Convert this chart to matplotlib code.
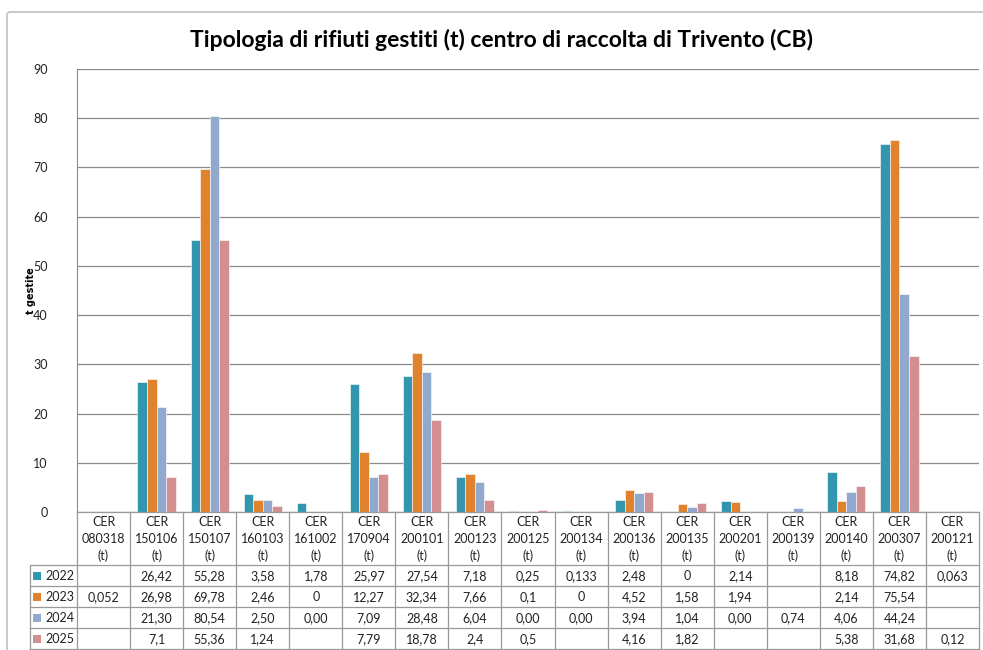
import matplotlib.pyplot as plt
from matplotlib.patches import Rectangle, FancyBboxPatch
from matplotlib.lines import Line2D
import matplotlib.transforms as mtransforms
import numpy as np

plt.rcParams['font.family'] = ['Lato', 'DejaVu Sans']

codes = ['080318', '150106', '150107', '160103', '161002', '170904', '200101',
         '200123', '200125', '200134', '200136', '200135', '200201', '200139',
         '200140', '200307', '200121']
years = ['2022', '2023', '2024', '2025']

# table values as printed (blank = no data)
v2022 = ['', '26,42', '55,28', '3,58', '1,78', '25,97', '27,54', '7,18', '0,25',
         '0,133', '2,48', '0', '2,14', '', '8,18', '74,82', '0,063']
v2023 = ['0,052', '26,98', '69,78', '2,46', '0', '12,27', '32,34', '7,66', '0,1',
         '0', '4,52', '1,58', '1,94', '', '2,14', '75,54', '']
v2024 = ['', '21,30', '80,54', '2,50', '0,00', '7,09', '28,48', '6,04', '0,00',
         '0,00', '3,94', '1,04', '0,00', '0,74', '4,06', '44,24', '']
v2025 = ['', '7,1', '55,36', '1,24', '', '7,79', '18,78', '2,4', '0,5',
         '', '4,16', '1,82', '', '', '5,38', '31,68', '0,12']
series = [v2022, v2023, v2024, v2025]
colors = ['#3296ae', '#e0822e', '#92a9cf', '#d38f8f']

W, H = 983, 650
fig = plt.figure(figsize=(W / 100, H / 100), dpi=100)

def fy(py):
    return 1 - py / H

def fx(px):
    return px / W

# outer chart border
fig.patches.append(FancyBboxPatch((fx(7), fy(655)), fx(995) - fx(7), fy(12) - fy(655),
                                  boxstyle='round,pad=0,rounding_size=0.004',
                                  transform=fig.transFigure, facecolor='white',
                                  edgecolor='#c0c0c0', linewidth=1.2, zorder=-1))

ax = fig.add_axes([fx(77), fy(512), fx(979) - fx(77), fy(69) - fy(512)])
ax.set_facecolor('none')

n = len(codes)
x = np.arange(n)
bw = 0.18
for k, (vals, col) in enumerate(zip(series, colors)):
    h = [float(s.replace(',', '.')) if s else 0 for s in vals]
    ax.bar(x + (k - 1.5) * bw, h, bw, color=col, edgecolor='white',
           linewidth=0.4, zorder=3)

ax.set_xlim(-0.5, n - 0.5)
ax.set_ylim(0, 90)
ax.set_yticks(np.arange(0, 91, 10))
ax.tick_params(axis='y', length=0, labelsize=9, pad=21, colors='#222222')
ax.set_xticks([])
ax.grid(axis='y', color='#8c8c8c', linewidth=0.9, zorder=0)
for s in ['top', 'right', 'bottom']:
    ax.spines[s].set_visible(False)
ax.spines['left'].set_color('#8c8c8c')

ax.set_ylabel('t gestite', fontsize=7, fontweight='bold',
              family=['DejaVu Sans'])
ax.yaxis.set_label_coords((36 - 77) / (979 - 77), 0.5)
fig.text(fx(501), fy(40), 'Tipologia di rifiuti gestiti (t) centro di raccolta di Trivento (CB)',
         ha='center', va='center', fontsize=16.5, fontweight='bold')

# data table under the axis
tr = mtransforms.blended_transform_factory(ax.transData, fig.transFigure)
lc = '#999999'
y_ax, y_head = 512, 565
row_h = 21
y_bot = y_head + row_h * len(years)

def hline(x0, x1, py, trans):
    fig.add_artist(Line2D([x0, x1], [fy(py), fy(py)], transform=trans,
                          color=lc, linewidth=0.9))

def vline(xx, py0, py1, trans):
    fig.add_artist(Line2D([xx, xx], [fy(py0), fy(py1)], transform=trans,
                          color=lc, linewidth=0.9))

hline(-0.5, n - 0.5, y_ax, tr)
for r in range(len(years) + 1):
    hline(fx(30), fx(77), y_head + r * row_h, fig.transFigure)
    hline(-0.5, n - 0.5, y_head + r * row_h, tr)
vline(fx(30), y_head, y_bot, fig.transFigure)
for i in range(n + 1):
    vline(i - 0.5, y_ax, y_bot, tr)

for i, c in enumerate(codes):
    fig.text(i, fy(539), 'CER\n' + c + '\n(t)', transform=tr, ha='center',
             va='center', fontsize=9, linespacing=1.45, color='#222222')
    for r, vals in enumerate(series):
        if vals[i]:
            fig.text(i, fy(y_head + r * row_h + row_h / 2 + 0.5), vals[i],
                     transform=tr, ha='center', va='center', fontsize=9,
                     color='#222222')

for r, (yr, col) in enumerate(zip(years, colors)):
    yc = y_head + r * row_h + row_h / 2
    fig.patches.append(Rectangle((fx(33), fy(yc + 4)), fx(8), fy(yc - 4) - fy(yc + 4),
                                 transform=fig.transFigure, facecolor=col,
                                 edgecolor='none'))
    fig.text(fx(45), fy(yc + 0.5), yr, ha='left', va='center', fontsize=9,
             color='#222222')

fig.savefig('out.png', dpi=100)
